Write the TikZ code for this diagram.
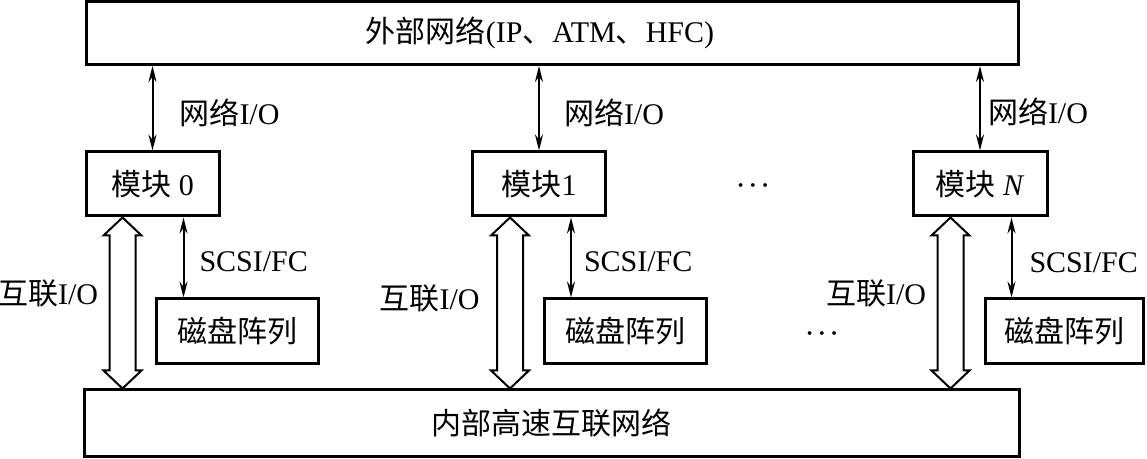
\documentclass[tikz,border=0pt]{standalone}
\usepackage{fontspec}
\setmainfont{Liberation Serif}
\newfontfamily\cjk{Noto Sans CJK SC}
\usetikzlibrary{arrows.meta,calc,positioning}
\newcommand\zh[1]{{\cjk #1}}
\newcommand\hollowarrow[2]{%
  \draw[hollowarr] (#1) -- ++(19,18) -- ++(-6,0) -- ($(#2)+(13,-18)$) -- ++(6,0)
    -- (#2) -- ++(-19,-18) -- ++(6,0) -- ($(#1)+(-13,18)$) -- ++(-6,0) -- cycle;}
\begin{document}
\begin{tikzpicture}[x=0.5pt,y=-0.5pt,font=\fontsize{15}{18}\selectfont,
  box/.style={draw,line width=1.5pt,inner sep=0pt},
  modbox/.style={box,minimum width=66.5pt,minimum height=32pt},
  diskbox/.style={box,minimum width=81pt,minimum height=32.5pt},
  io/.style={{Stealth[length=8pt,width=4pt]}-{Stealth[length=8pt,width=4pt]},line width=1pt},
  hollowarr/.style={line width=1pt,line join=miter,fill=white},
  lbl/.style={inner sep=0pt},
  dotsnode/.style={font=\fontsize{12}{14}\selectfont\boldmath}]
\useasboundingbox (0,0) rectangle (1147,459);
% networks
\node[box,minimum width=466pt,minimum height=31.5pt] (outer) at (552,33) {\raisebox{-2pt}{\zh{外部网络}(IP\zh{、}ATM\zh{、}HFC)}\hspace*{12pt}};
\node[box,minimum width=467.5pt,minimum height=33.5pt] (inner) at (551.5,423.5) {\zh{内部高速互联网络}};
% modules and disks
\node[modbox] (m0) at (152.5,184) {\zh{模块} 0};
\node[modbox] (m1) at (539,184) {\zh{模块}1};
\node[modbox,minimum width=67pt] (mN) at (980,184) {\zh{模块} \textit{N}};
\node[diskbox] (d0) at (237,331.5) {\zh{磁盘阵列}};
\node[diskbox] (d1) at (625,331.5) {\zh{磁盘阵列}};
\node[diskbox,minimum width=79pt] (dN) at (1064,331.5) {\zh{磁盘阵列}};
\node[dotsnode] (dots1) at (753,186) {$\cdots$};
\node[dotsnode] (dots2) at (822,334) {$\cdots$};
% network I/O
\draw[io] (outer.south -| m0.north) -- (m0.north)
  node[lbl,midway,anchor=west,xshift=13pt,yshift=-2.5pt] {\zh{网络}I/O};
\draw[io] (outer.south -| m1.north) -- (m1.north)
  node[lbl,midway,anchor=west,xshift=12pt,yshift=-2.5pt] {\zh{网络}I/O};
\draw[io] (outer.south -| mN.north) -- (mN.north)
  node[lbl,midway,anchor=west,xshift=3.5pt,yshift=-2pt] {\zh{网络}I/O};
% SCSI/FC
\coordinate (s0) at ($(m0.south west)+(99,0)$);
\coordinate (s1) at ($(m1.south west)+(100,0)$);
\coordinate (sN) at ($(mN.south west)+(100,0)$);
\draw[io] (s0) -- (s0 |- d0.north)
  node[lbl,midway,anchor=west,xshift=7.5pt,yshift=-2pt] {SCSI/FC};
\draw[io] (s1) -- (s1 |- d1.north)
  node[lbl,midway,anchor=west,xshift=6pt,yshift=-2pt] {SCSI/FC};
\draw[io] (sN) -- (sN |- dN.north)
  node[lbl,midway,anchor=west,xshift=8.5pt,yshift=-2.5pt] {SCSI/FC};
% interconnect I/O
\coordinate (h0t) at ($(m0.south west)+(38,0)$);
\coordinate (h0b) at (h0t |- inner.north);
\coordinate (h1t) at ($(m1.south west)+(39,0)$);
\coordinate (h1b) at (h1t |- inner.north);
\coordinate (hNt) at ($(mN.south west)+(39,0)$);
\coordinate (hNb) at (hNt |- inner.north);
\hollowarrow{h0t}{h0b}
\hollowarrow{h1t}{h1b}
\hollowarrow{hNt}{hNb}
\node[lbl,anchor=east] (l0) at ($(h0t)!.5!(h0b)+(-24,-10)$) {\zh{互联}I/O};
\node[lbl,anchor=east] (l1) at ($(h1t)!.5!(h1b)+(-30,-5)$) {\zh{互联}I/O};
\node[lbl,anchor=east] (lN) at ($(hNt)!.5!(hNb)+(-24,-10)$) {\zh{互联}I/O};
\end{tikzpicture}
\end{document}
